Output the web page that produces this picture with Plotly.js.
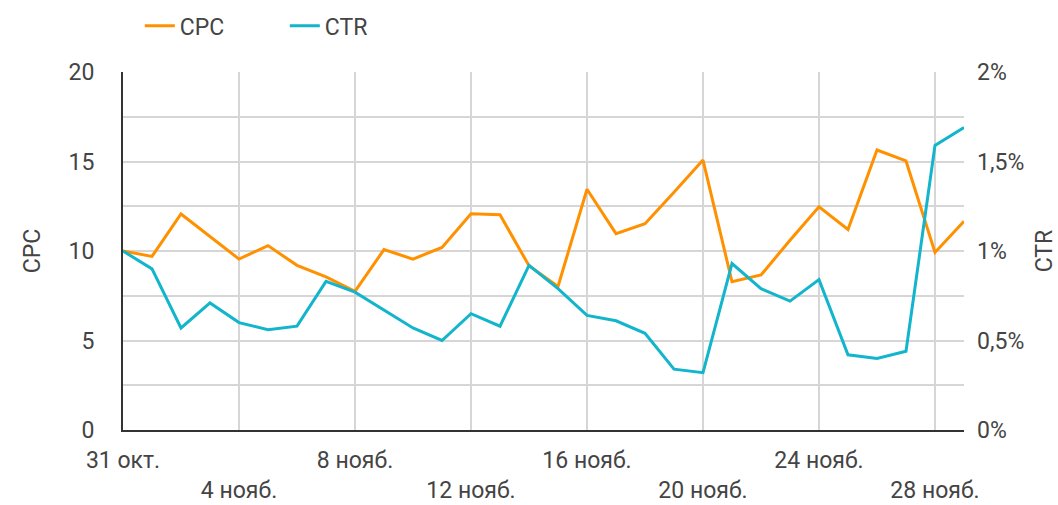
<!DOCTYPE html>
<html>
<head>
<meta charset="utf-8">
<script src="https://cdn.plot.ly/plotly-3.0.1.min.js"></script>
<style>
html,body{margin:0;padding:0;background:#fff;}
#chart{width:1058px;height:505px;}
</style>
</head>
<body>
<div id="chart"></div>
<script>
const dates = [
  '2023-10-31','2023-11-01','2023-11-02','2023-11-03','2023-11-04','2023-11-05',
  '2023-11-06','2023-11-07','2023-11-08','2023-11-09','2023-11-10','2023-11-11',
  '2023-11-12','2023-11-13','2023-11-14','2023-11-15','2023-11-16','2023-11-17',
  '2023-11-18','2023-11-19','2023-11-20','2023-11-21','2023-11-22','2023-11-23',
  '2023-11-24','2023-11-25','2023-11-26','2023-11-27','2023-11-28','2023-11-29'
];
const cpc = [10.0, 9.7, 12.07, 10.8, 9.55, 10.3, 9.2, 8.55, 7.75, 10.08,
             9.55, 10.2, 12.08, 12.02, 9.18, 8.02, 13.45, 10.97, 11.52, 13.28,
             15.08, 8.28, 8.66, 10.6, 12.47, 11.2, 15.64, 15.03, 9.92, 11.66];
const ctr = [1.00, 0.90, 0.57, 0.71, 0.60, 0.56, 0.58, 0.83, 0.77, 0.67,
             0.57, 0.50, 0.65, 0.58, 0.92, 0.79, 0.64, 0.61, 0.54, 0.34,
             0.32, 0.93, 0.79, 0.72, 0.84, 0.42, 0.40, 0.44, 1.59, 1.69];
const tickRow1Vals = ['2023-10-31','2023-11-08','2023-11-16','2023-11-24'];
const tickRow1Text = ['31 окт.','8 нояб.','16 нояб.','24 нояб.'];
const tickRow2Vals = ['2023-11-04','2023-11-12','2023-11-20','2023-11-28'];
const tickRow2Text = ['4 нояб.','12 нояб.','20 нояб.','28 нояб.'];
const gridVals = ['2023-10-31','2023-11-04','2023-11-08','2023-11-12','2023-11-16','2023-11-20','2023-11-24','2023-11-28'];
const cpcTicks = [0, 5, 10, 15, 20];
const ctrTickVals = [0, 0.5, 1, 1.5, 2];
const ctrTickText = ['0%', '0,5%', '1%', '1,5%', '2%'];

const orange = '#ff9100';
const teal = '#12b5cb';
const txt = '#444444';
const grid = '#d6d6d6';
const font = {family: 'Roboto, "Noto Sans", sans-serif', size: 23, color: txt};

const traces = [
  {x: dates, y: cpc, name: 'CPC', type: 'scatter', mode: 'lines',
   line: {color: orange, width: 3}, xaxis: 'x', yaxis: 'y'},
  {x: dates, y: ctr, name: 'CTR', type: 'scatter', mode: 'lines',
   line: {color: teal, width: 3}, xaxis: 'x2', yaxis: 'y2'}
];

const range = [dates[0], dates[dates.length - 1]];

const layout = {
  width: 1058, height: 505,
  margin: {l: 123, r: 94, t: 72, b: 75, autoexpand: false},
  paper_bgcolor: '#fff', plot_bgcolor: '#fff',
  font: font,
  showlegend: true,
  legend: {orientation: 'h', x: 0.02, xanchor: 'left', y: 1.129, yanchor: 'middle',
           font: font, entrywidth: 100, traceorder: 'normal'},
  xaxis: {
    type: 'date', range: range, tickmode: 'array',
    tickvals: gridVals,
    ticktext: gridVals.map(v => { const i = tickRow1Vals.indexOf(v); return i >= 0 ? tickRow1Text[i] : ''; }),
    showgrid: true, gridcolor: grid, gridwidth: 2,
    showline: true, linecolor: '#333', linewidth: 2,
    ticks: '', ticklabelstandoff: 8, tickfont: font,
    zeroline: false, fixedrange: true, automargin: false
  },
  xaxis2: {
    type: 'date', range: range, overlaying: 'x', anchor: 'y2', side: 'bottom',
    matches: 'x',
    tickmode: 'array', tickvals: tickRow2Vals, ticktext: tickRow2Text,
    showgrid: false, showline: false, ticks: '', ticklabelstandoff: 44,
    tickfont: font, zeroline: false, automargin: false
  },
  yaxis: {
    range: [0, 20], tickmode: 'array', tickvals: cpcTicks,
    showgrid: true, gridcolor: grid, gridwidth: 2,
    minor: {dtick: 2.5, tick0: 0, showgrid: true, gridcolor: grid, gridwidth: 2, ticks: ''},
    showline: true, linecolor: '#333', linewidth: 2,
    ticks: '', ticklabelstandoff: 22, tickfont: font, zeroline: false, automargin: false,
    title: {text: 'CPC', font: font, standoff: 21}
  },
  yaxis2: {
    range: [0, 2], overlaying: 'y', side: 'right', anchor: 'x',
    tickmode: 'array', tickvals: ctrTickVals, ticktext: ctrTickText,
    showgrid: false, showline: false, ticks: '', ticklabelstandoff: 12,
    tickfont: font, zeroline: false, automargin: false,
    title: {text: 'CTR', font: font, standoff: 21}
  }
};

Plotly.newPlot('chart', traces, layout, {displayModeBar: false, staticPlot: true});
</script>
</body>
</html>
